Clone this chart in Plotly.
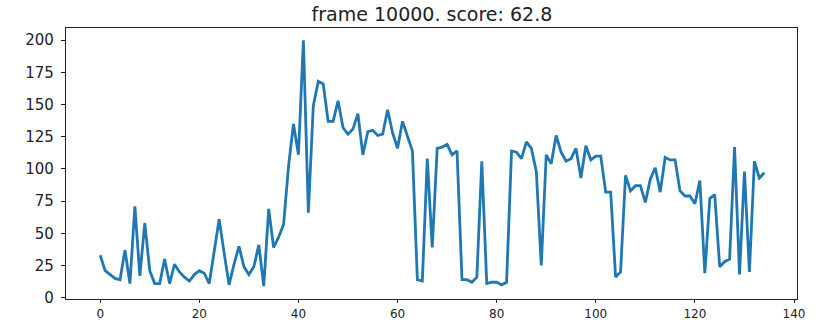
import plotly.graph_objects as go

frames = list(range(135))
scores = [33, 21, 18, 15, 14, 37, 11, 71, 17, 58,
          21, 11, 11, 30, 11, 26, 20, 16, 13, 18,
          21, 19, 11, 36, 61, 35, 10, 26, 40, 24,
          18, 24, 41, 9, 69, 39, 47, 57, 102, 135,
          111, 200, 66, 149, 168, 166, 137, 137, 153, 132,
          127, 131, 143, 111, 129, 130, 126, 127, 146, 128,
          116, 137, 125, 114, 14, 13, 108, 39, 116, 117,
          119, 111, 114, 14, 14, 12, 16, 106, 11, 12,
          12, 10, 12, 114, 113, 108, 121, 116, 98, 25,
          111, 104, 126, 113, 106, 108, 116, 93, 118, 107,
          110, 110, 82, 82, 16, 20, 95, 83, 87, 87,
          74, 92, 101, 82, 109, 107, 107, 83, 79, 79,
          73, 91, 19, 77, 80, 24, 28, 30, 117, 18,
          98, 20, 106, 93, 97]
x_ticks = [0, 20, 40, 60, 80, 100, 120, 140]
y_ticks = [0, 25, 50, 75, 100, 125, 150, 175, 200]
title_text = "frame 10000. score: 62.8"

fig = go.Figure(go.Scatter(x=frames, y=scores, mode="lines",
                           line=dict(color="#1f77b4", width=2.8)))

axis_common = dict(showgrid=False, zeroline=False, showline=True, mirror=True,
                   linecolor="#222", linewidth=1.2, ticks="outside",
                   tickcolor="#222", automargin=False)

fig.update_xaxes(range=[-6.9, 140.6], tickvals=x_ticks, ticklen=3,
                 tickfont=dict(family="DejaVu Sans", size=12, color="#222"), **axis_common)
fig.update_yaxes(range=[-1, 209.5], tickvals=y_ticks, ticklen=4, ticklabelstandoff=4,
                 tickfont=dict(family="DejaVu Sans", size=15, color="#222"), **axis_common)

fig.update_layout(
    width=815, height=320,
    margin=dict(l=66, r=18, t=28, b=21, autoexpand=False),
    paper_bgcolor="white", plot_bgcolor="white",
    showlegend=False,
    title=dict(text=title_text, x=0.53, xanchor="center", y=0.955, yanchor="middle",
               yref="container", automargin=False,
               font=dict(family="DejaVu Sans", size=19, color="#222")),
)

fig.write_html("out.html", config={"displayModeBar": False},
               post_script="document.body.style.margin='0';document.body.style.padding='0';document.body.style.overflow='hidden';")
